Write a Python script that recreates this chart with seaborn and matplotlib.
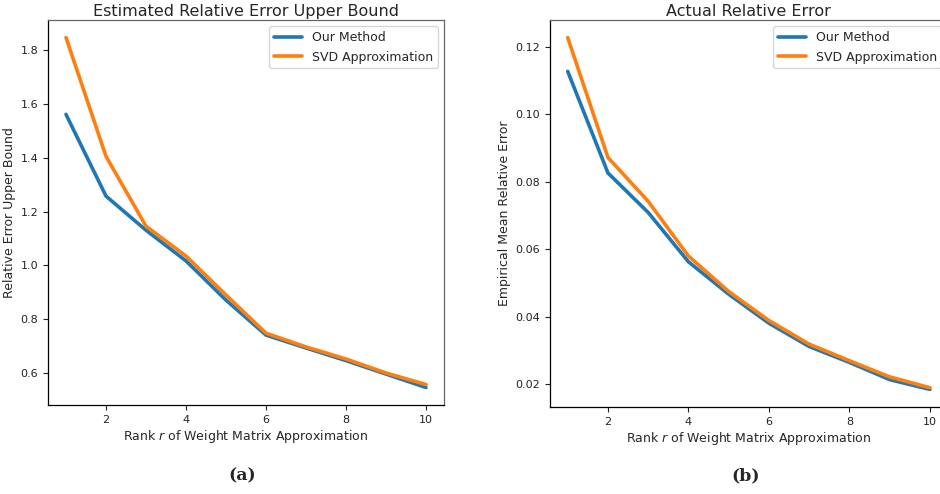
import numpy as np
import pandas as pd
import seaborn as sns
from matplotlib import pyplot as plt

ranks = [1, 2, 3, 4, 5, 6, 7, 8, 9, 10]
bound_ours = [1.562, 1.258, 1.131, 1.017, 0.871, 0.741, 0.693, 0.646, 0.596, 0.546]
bound_svd = [1.848, 1.406, 1.146, 1.035, 0.890, 0.748, 0.697, 0.652, 0.600, 0.557]
err_ours = [0.1127, 0.0826, 0.0709, 0.0563, 0.0467, 0.0381, 0.0312, 0.0265, 0.0214, 0.0185]
err_svd = [0.1227, 0.0872, 0.0742, 0.0580, 0.0475, 0.0389, 0.0319, 0.0270, 0.0222, 0.0190]
methods = ['Our Method', 'SVD Approximation']


def make_df(ours, svd):
    rows = []
    for r, a, b in zip(ranks, ours, svd):
        rows.append({'rank': r, 'value': a, 'method': methods[0]})
        rows.append({'rank': r, 'value': b, 'method': methods[1]})
    return pd.DataFrame(rows)


sns.set_style('ticks')
plt.rcParams['font.family'] = ['DejaVu Sans']

fig = plt.figure(figsize=(9.4, 4.94), dpi=100)
W, H = 940, 494
ax1 = fig.add_axes([48 / W, (H - 405) / H, 396 / W, 385 / H])
ax2 = fig.add_axes([549.6 / W, (H - 407) / H, 398.4 / W, 387 / H])

palette = ['#1f77b4', '#ff7f0e']
panels = [
    (ax1, bound_ours, bound_svd, 'Estimated Relative Error Upper Bound', 'Relative Error Upper Bound'),
    (ax2, err_ours, err_svd, 'Actual Relative Error', 'Empirical Mean Relative Error'),
]
for ax, ours, svd, title, ylabel in panels:
    df = make_df(ours, svd)
    sns.lineplot(data=df, x='rank', y='value', hue='method', palette=palette,
                 linewidth=2.6, ax=ax)
    ax.set_title(title, fontsize=11.5, pad=3)
    ax.set_xlabel('Rank $r$ of Weight Matrix Approximation', fontsize=9, labelpad=2)
    ax.set_ylabel(ylabel, fontsize=9, labelpad=3)
    ax.tick_params(labelsize=8, length=3.5, width=0.8, colors='#222222')
    ax.set_xticks([2, 4, 6, 8, 10])
    for side in ['left', 'bottom']:
        ax.spines[side].set_color('black')
        ax.spines[side].set_linewidth(0.9)
    for side in ['top', 'right']:
        ax.spines[side].set_color('#666666')
        ax.spines[side].set_linewidth(0.9)
    leg = ax.legend(loc='upper right', fontsize=9, frameon=True, handlelength=2.2)
    leg.get_frame().set_edgecolor('#cccccc')
    for line in leg.get_lines():
        line.set_linewidth(2.6)

ax2.spines['right'].set_visible(False)

fig.text(242 / W, 1 - 476 / H, '(a)', ha='center', va='center', fontsize=12.5,
         fontweight='bold', family='DejaVu Serif')
fig.text(746 / W, 1 - 476 / H, '(b)', ha='center', va='center', fontsize=12.5,
         fontweight='bold', family='DejaVu Serif')

fig.savefig('out.png', dpi=100, facecolor='white')
